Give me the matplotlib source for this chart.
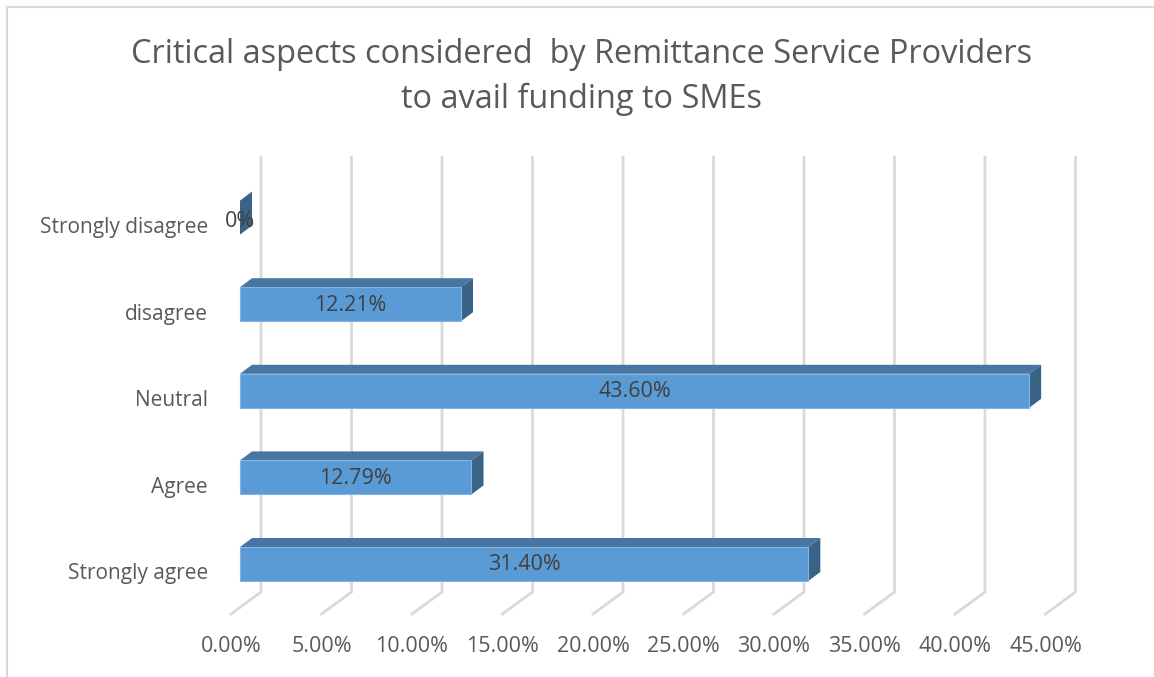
import matplotlib.pyplot as plt
from matplotlib.patches import Polygon

plt.rcParams['font.family'] = ['Open Sans', 'DejaVu Sans']

categories = ['Strongly agree', 'Agree', 'Neutral', 'disagree', 'Strongly disagree']
values = [31.40, 12.79, 43.60, 12.21, 0.0]
value_labels = ['31.40%', '12.79%', '43.60%', '12.21%', '0%']
xticks = [0, 5, 10, 15, 20, 25, 30, 35, 40, 45]
title = 'Critical aspects considered  by Remittance Service Providers\nto avail funding to SMEs'

# pixel scale of the 3d-looking plot area
PX_X = 1 / 18.1   # data units per pixel along x (percent)
PX_Y = 1 / 86.6   # data units per pixel along y (category)

front_col = '#5B9BD5'
top_col = '#4776A3'
side_col = '#3A6388'
grid_col = '#D9D9D9'
text_col = '#595959'

fig = plt.figure(figsize=(11.54, 6.77), dpi=100)
ax = fig.add_axes([0, 0, 1, 1])
ax.set_xlim(-240 * PX_X, 914 * PX_X)
ax.set_ylim(-113 * PX_Y, 564 * PX_Y)
ax.axis('off')

# back wall gridlines + floor lines
wall_dx = 21 * PX_X
floor_dx = -9 * PX_X
wall_bottom = -28 * PX_Y
wall_top = 407 * PX_Y
floor_front = -50 * PX_Y
for t in xticks:
    ax.plot([t + wall_dx, t + wall_dx, t + floor_dx],
            [wall_top, wall_bottom, floor_front],
            color=grid_col, lw=2, solid_joinstyle='miter', zorder=1)
    ax.text(t + floor_dx, floor_front - 33 * PX_Y, '{:.2f}%'.format(t),
            ha='center', va='center', fontsize=15.5, color=text_col)

# bars: front face, top face, side face
h = 34 * PX_Y
dx = 12 * PX_X
dy = 9 * PX_Y
for i, (v, lab) in enumerate(zip(values, value_labels)):
    y0, y1 = i - h / 2, i + h / 2
    top = Polygon([(0, y1), (v, y1), (v + dx, y1 + dy), (dx, y1 + dy)],
                  closed=True, fc=top_col, ec='none', zorder=3)
    side = Polygon([(v, y0), (v, y1), (v + dx, y1 + dy), (v + dx, y0 + dy)],
                   closed=True, fc=side_col, ec='none', zorder=3)
    ax.add_patch(top)
    ax.add_patch(side)
    if v > 0:
        ax.barh(i, v, height=h, left=0, color=front_col,
                edgecolor='#86B4E2', linewidth=0.8, zorder=4)
    ax.text(v / 2, i + (-4 if v == 0 else -1) * PX_Y, lab, ha='center', va='center',
            fontsize=15.5, color='#404040', zorder=5)
    ax.text(-32 * PX_X, i - 10 * PX_Y, categories[i], ha='right', va='center',
            fontsize=15, color=text_col)

fig.text(0.504, 1 - 77 / 677, title, ha='center', va='center', fontsize=23.4,
         color=text_col, linespacing=1.5)

# chart border (left and top edges)
fig.add_artist(plt.Line2D([7 / 1154, 7 / 1154], [0, 1 - 7 / 677],
                          transform=fig.transFigure, color=grid_col, lw=1.5))
fig.add_artist(plt.Line2D([7 / 1154, 1], [1 - 7 / 677, 1 - 7 / 677],
                          transform=fig.transFigure, color=grid_col, lw=1.5))

fig.savefig('out.png', dpi=100)
